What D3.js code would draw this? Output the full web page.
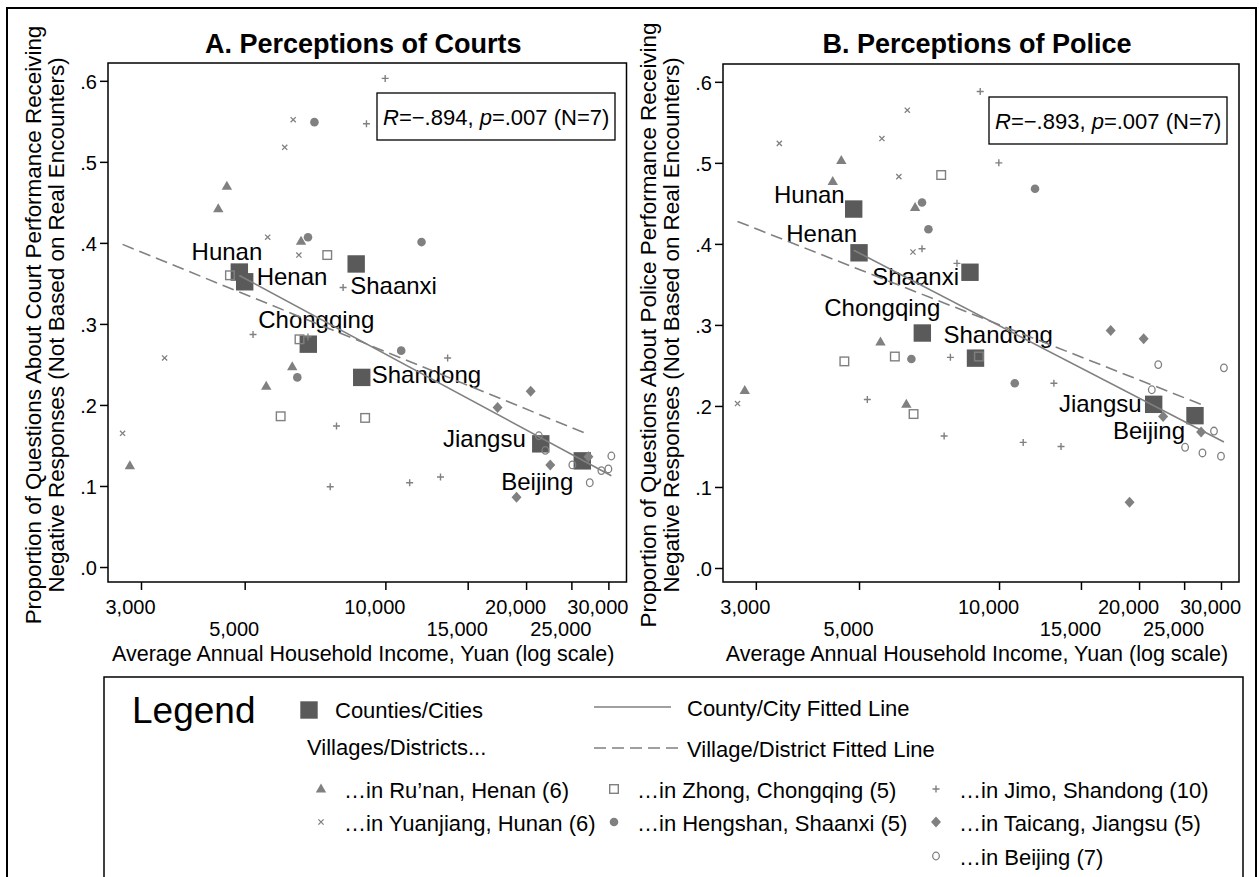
<!DOCTYPE html>
<html>
<head>
<meta charset="utf-8">
<script src="https://cdn.jsdelivr.net/npm/d3@7"></script>
<style>
  body { margin: 0; background: #fff; }
  text { font-family: "Liberation Sans", Arial, sans-serif; fill: #000; }
</style>
</head>
<body>
<script>
/* DATA */
const counties = ["Hunan", "Henan", "Shaanxi", "Chongqing", "Shandong", "Jiangsu", "Beijing"];
const countyIncome = [4870, 5000, 8660, 6840, 8900, 21500, 26380];
const countyCourts = [.364, .352, .374, .275, .234, .152, .131];
const countyPolice = [.443, .389, .365, .290, .259, .202, .188];

const runanIncome = [2840, 4390, 4580, 5560, 6320, 6600];
const runanCourts = [.125, .442, .470, .223, .247, .402];
const runanPolice = [.219, .477, .503, .279, .202, .445];

const yuanjiangIncome = [2740, 3370, 5600, 6090, 6350, 6530];
const yuanjiangCourts = [.165, .258, .407, .518, .552, .385];
const yuanjiangPolice = [.203, .524, .530, .483, .565, .390];

const zhongIncome = [4650, 5970, 6550, 7510, 9050];
const zhongCourts = [.360, .186, .281, .385, .184];
const zhongPolice = [.255, .261, .190, .485, .261];

const hengshanIncome = [6480, 6830, 7050, 10810, 11950];
const hengshanCourts = [.234, .407, .549, .267, .401];
const hengshanPolice = [.258, .451, .418, .228, .468];

const jimoIncome = [5210, 6830, 7620, 7860, 8120, 9110, 9990, 11270, 13120, 13590];
const jimoCourts = [.287, .284, .099, .174, .345, .547, .603, .104, .111, .258];
const jimoPolice = [.208, .394, .163, .260, .376, .588, .500, .155, .228, .150];

const taicangIncome = [17380, 19080, 20460, 22530, 27190];
const taicangCourts = [.197, .086, .217, .126, .136];
const taicangPolice = [.293, .081, .283, .187, .168];

const beijingIncome = [21300, 21990, 25120, 27370, 28980, 30000, 30440];
const beijingCourts = [.162, .144, .126, .104, .119, .121, .137];
const beijingPolice = [.220, .251, .149, .142, .169, .138, .247];

const xTicks = [3000, 5000, 10000, 15000, 20000, 25000, 30000];
const yTicks = [0, .1, .2, .3, .4, .5, .6];

/* LAYOUT */
const WIDTH = 1259, HEIGHT = 877;
const GREY = "#808080", DARK = "#5a5a5a";

const groups = [
  { sym: "tri",   income: runanIncome,     courts: runanCourts,     police: runanPolice,     label: "…in Ru’nan, Henan (6)" },
  { sym: "x",     income: yuanjiangIncome, courts: yuanjiangCourts, police: yuanjiangPolice, label: "…in Yuanjiang, Hunan (6)" },
  { sym: "hsq",   income: zhongIncome,     courts: zhongCourts,     police: zhongPolice,     label: "…in Zhong, Chongqing (5)" },
  { sym: "dot",   income: hengshanIncome,  courts: hengshanCourts,  police: hengshanPolice,  label: "…in Hengshan, Shaanxi (5)" },
  { sym: "plus",  income: jimoIncome,      courts: jimoCourts,      police: jimoPolice,      label: "…in Jimo, Shandong (10)" },
  { sym: "dia",   income: taicangIncome,   courts: taicangCourts,   police: taicangPolice,   label: "…in Taicang, Jiangsu (5)" },
  { sym: "ring",  income: beijingIncome,   courts: beijingCourts,   police: beijingPolice,   label: "…in Beijing (7)", district: true }
];

// where each county label sits relative to its square: [dx, dy, anchor]
const labelsA = {
  Hunan: [23, -12, "end"], Henan: [12, 3, "start"], Shaanxi: [-6, 30, "start"],
  Chongqing: [8, -16, "middle"], Shandong: [10, 6, "start"], Jiangsu: [-15, 3, "end"],
  Beijing: [-9, 29, "end"]
};
const labelsB = {
  Hunan: [-9, -6, "end"], Henan: [-2, -11, "end"], Shaanxi: [-11, 13, "end"],
  Chongqing: [18, -17, "end"], Shandong: [-32, -15, "start"], Jiangsu: [-12, 8, "end"],
  Beijing: [-10, 23, "end"]
};

const panels = [
  { key: "courts", cKey: countyCourts, title: "A. Perceptions of Courts",
    ytitle: "Proportion of Questions About Court Performance Receiving",
    r: "−.894", p: ".007", left: 108, right: 626.5, top: 63, bottom: 582,
    box: [377, 93], labels: labelsA },
  { key: "police", cKey: countyPolice, title: "B. Perceptions of Police",
    ytitle: "Proportion of Questions About Police Performance Receiving",
    r: "−.893", p: ".007", left: 723, right: 1239, top: 64, bottom: 582,
    box: [989, 97], labels: labelsB }
];

const svg = d3.select("body").append("svg")
  .attr("width", WIDTH)
  .attr("height", HEIGHT);

svg.append("rect")
  .attr("x", 7).attr("y", 8)
  .attr("width", 1249).attr("height", HEIGHT + 10)
  .attr("fill", "none").attr("stroke", "#000").attr("stroke-width", 2);

function marker(g, sym, x, y) {
  switch (sym) {
    case "tri":
      g.append("path").attr("d", `M${x},${y - 5.5}L${x + 5.2},${y + 3.5}L${x - 5.2},${y + 3.5}Z`).attr("fill", GREY);
      break;
    case "x":
      g.append("path").attr("d", `M${x - 2.6},${y - 2.6}L${x + 2.6},${y + 2.6}M${x - 2.6},${y + 2.6}L${x + 2.6},${y - 2.6}`)
        .attr("stroke", GREY).attr("stroke-width", 1.3);
      break;
    case "hsq":
      g.append("rect").attr("x", x - 4.3).attr("y", y - 4.3).attr("width", 8.6).attr("height", 8.6)
        .attr("fill", "none").attr("stroke", GREY).attr("stroke-width", 1.4);
      break;
    case "dot":
      g.append("circle").attr("cx", x).attr("cy", y).attr("r", 4.3).attr("fill", GREY);
      break;
    case "plus":
      g.append("path").attr("d", `M${x - 3.5},${y}L${x + 3.5},${y}M${x},${y - 3.5}L${x},${y + 3.5}`)
        .attr("stroke", GREY).attr("stroke-width", 1.4);
      break;
    case "dia":
      g.append("path").attr("d", `M${x},${y - 5.5}L${x + 5},${y}L${x},${y + 5.5}L${x - 5},${y}Z`).attr("fill", GREY);
      break;
    case "ring":
      g.append("ellipse").attr("cx", x).attr("cy", y).attr("rx", 3.3).attr("ry", 3.8)
        .attr("fill", "none").attr("stroke", GREY).attr("stroke-width", 1.3);
      break;
    case "csq":
      g.append("rect").attr("x", x - 8.7).attr("y", y - 8.7).attr("width", 17.4).attr("height", 17.4).attr("fill", DARK);
      break;
  }
}

function fit(xs, ys) {
  const u = xs.map(Math.log10);
  const mu = d3.mean(u), my = d3.mean(ys);
  const b = d3.sum(u, (v, i) => (v - mu) * (ys[i] - my)) / d3.sum(u, v => (v - mu) ** 2);
  return x => my + b * (Math.log10(x) - mu);
}

const yFmt = d => d === 0 ? ".0" : d3.format(".1f")(d).replace(/^0/, "");

panels.forEach(P => {
  const x = d3.scaleLog().domain([2550, 32800]).range([P.left, P.right]);
  const y = d3.scaleLinear().domain([-0.0185, 0.622]).range([P.bottom + (P.top - 63), P.top]);
  const g = svg.append("g");
  const cx = (P.left + P.right) / 2;

  // title
  g.append("text").attr("x", cx - 4).attr("y", 53).attr("text-anchor", "middle")
    .attr("font-size", 27).attr("font-weight", "bold").text(P.title);

  // y axis title, two lines
  g.append("text").attr("text-anchor", "middle").attr("font-size", 22.4)
    .attr("transform", `translate(${P.left - 67},325) rotate(-90)`)
    .text(P.ytitle);
  g.append("text").attr("text-anchor", "middle").attr("font-size", 22.4)
    .attr("transform", `translate(${P.left - 44},325) rotate(-90)`)
    .text("Negative Responses (Not Based on Real Encounters)");

  // axes
  const ya = g.append("g").attr("transform", `translate(${P.left},0)`)
    .call(d3.axisLeft(y).tickValues(yTicks).tickSize(8).tickPadding(3).tickFormat(yFmt));
  ya.select(".domain").remove();
  ya.selectAll("line").attr("stroke", "#000").attr("stroke-width", 1.5);
  ya.selectAll("text").attr("font-size", 20).attr("font-family", null).attr("dy", "0.36em");

  const xa = g.append("g").attr("transform", `translate(0,${P.bottom})`)
    .call(d3.axisBottom(x).tickValues(xTicks).tickSize(8).tickFormat(d3.format(",")));
  xa.select(".domain").remove();
  xa.selectAll("line").attr("stroke", "#000").attr("stroke-width", 1.5);
  // labels sit a little left of their ticks in the source
  xa.selectAll("text").attr("font-size", 20).attr("font-family", null)
    .attr("dy", null).attr("x", -11).attr("y", (d, i) => i % 2 ? 54 : 32);

  g.append("text").attr("x", cx - 4).attr("y", 661).attr("text-anchor", "middle")
    .attr("font-size", 21.5).text("Average Annual Household Income, Yuan (log scale)");

  // plot frame
  g.append("rect").attr("x", P.left).attr("y", P.top)
    .attr("width", P.right - P.left).attr("height", P.bottom - P.top)
    .attr("fill", "none").attr("stroke", "#000").attr("stroke-width", 1.5);

  // stat box
  g.append("rect").attr("x", P.box[0]).attr("y", P.box[1]).attr("width", 238).attr("height", 47)
    .attr("fill", "#fff").attr("stroke", "#000").attr("stroke-width", 1.3);
  const st = g.append("text").attr("x", P.box[0] + 6).attr("y", P.box[1] + 32).attr("font-size", 22);
  st.append("tspan").attr("font-style", "italic").text("R");
  st.append("tspan").text("=" + P.r + ", ");
  st.append("tspan").attr("font-style", "italic").text("p");
  st.append("tspan").text("=" + P.p + " (N=7)");

  // counties with labels
  counties.forEach((c, i) => {
    const px = x(countyIncome[i]), py = y(P.cKey[i]);
    marker(g, "csq", px, py);
    const L = P.labels[c];
    g.append("text").attr("x", px + L[0]).attr("y", py + L[1]).attr("text-anchor", L[2])
      .attr("font-size", 24).text(c);
  });

  // villages / districts
  groups.forEach(G => {
    G.income.forEach((v, i) => marker(g, G.sym, x(v), y(G[P.key][i])));
  });

  // fitted lines
  const allInc = groups.flatMap(G => G.income);
  const allY = groups.flatMap(G => G[P.key]);
  const cf = fit(countyIncome, P.cKey);
  const cr = [d3.min(countyIncome), d3.max(allInc)];
  g.append("line")
    .attr("x1", x(cr[0])).attr("y1", y(cf(cr[0])))
    .attr("x2", x(cr[1])).attr("y2", y(cf(cr[1])))
    .attr("stroke", GREY).attr("stroke-width", 1.6);

  const vf = fit(allInc, allY);
  const vr = d3.extent(groups.filter(G => !G.district).flatMap(G => G.income));
  g.append("line")
    .attr("x1", x(vr[0])).attr("y1", y(vf(vr[0])))
    .attr("x2", x(vr[1])).attr("y2", y(vf(vr[1])))
    .attr("stroke", GREY).attr("stroke-width", 1.6).attr("stroke-dasharray", "12,6");
});

/* LEGEND */
const lg = svg.append("g");
lg.append("rect").attr("x", 104).attr("y", 677).attr("width", 1139).attr("height", 260)
  .attr("fill", "none").attr("stroke", "#000").attr("stroke-width", 1.5);
lg.append("text").attr("x", 132).attr("y", 723).attr("font-size", 37).text("Legend");

marker(lg, "csq", 309, 710);
lg.append("text").attr("x", 335).attr("y", 718).attr("font-size", 22).text("Counties/Cities");
lg.append("line").attr("x1", 594).attr("x2", 671).attr("y1", 707).attr("y2", 707)
  .attr("stroke", GREY).attr("stroke-width", 1.6);
lg.append("text").attr("x", 687).attr("y", 716).attr("font-size", 22).text("County/City Fitted Line");
lg.append("text").attr("x", 307).attr("y", 755).attr("font-size", 22).text("Villages/Districts...");
lg.append("line").attr("x1", 594).attr("x2", 679).attr("y1", 748).attr("y2", 748)
  .attr("stroke", GREY).attr("stroke-width", 1.6).attr("stroke-dasharray", "12,6");
lg.append("text").attr("x", 687).attr("y", 757).attr("font-size", 22).text("Village/District Fitted Line");

const legendSlots = {
  tri: [321, 791], x: [321, 824], hsq: [614, 791], dot: [614, 824],
  plus: [936, 791], dia: [936, 824], ring: [936, 858]
};
groups.forEach(G => {
  const s = legendSlots[G.sym];
  marker(lg, G.sym, s[0], s[1] - 2);
  lg.append("text").attr("x", s[0] + 23).attr("y", s[1] + 7).attr("font-size", 22).text(G.label);
});
</script>
</body>
</html>
